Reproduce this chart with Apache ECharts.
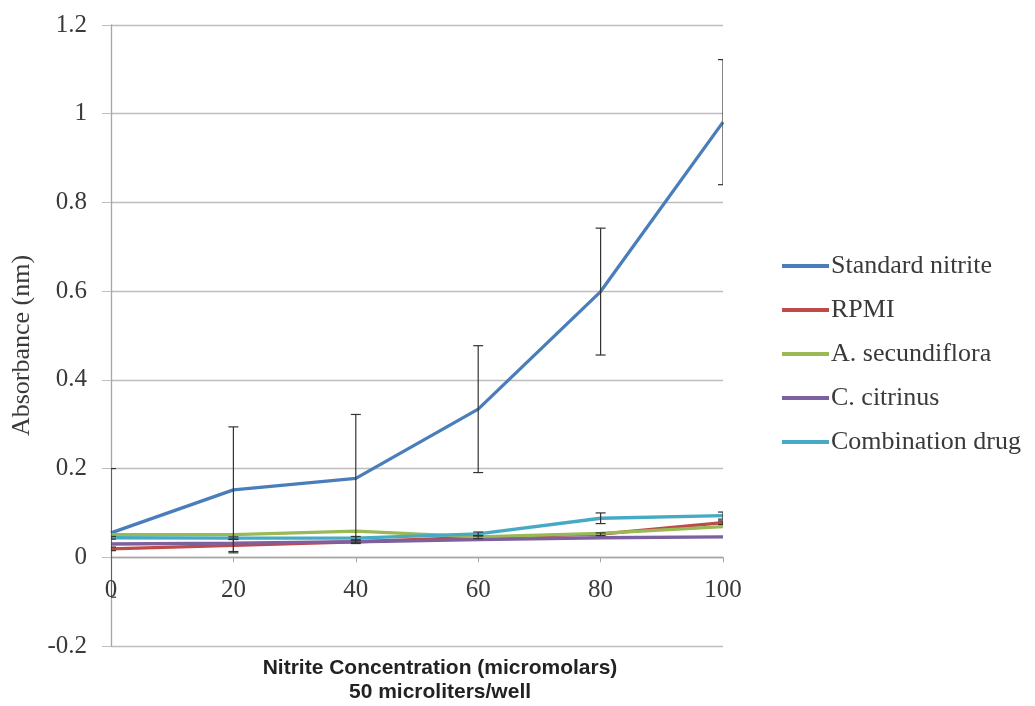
<!DOCTYPE html>
<html>
<head>
<meta charset="utf-8">
<script src="https://cdn.jsdelivr.net/npm/echarts@6/dist/echarts.min.js"></script>
<style>
html,body{margin:0;padding:0;background:#fff;}
#chart{width:1035px;height:706px;}
</style>
</head>
<body>
<div id="chart"></div>
<script>
const xValues = [0, 20, 40, 60, 80, 100];
const seriesNames = ['Standard nitrite', 'RPMI', 'A. secundiflora', 'C. citrinus', 'Combination drug'];
const standardNitrite = [0.055, 0.152, 0.178, 0.334, 0.599, 0.981];
const standardNitriteErr = [0.145, 0.142, 0.144, 0.143, 0.143, 0.141];
const rpmi = [0.019, 0.027, 0.035, 0.045, 0.052, 0.078];
const rpmiErr = [0.004, 0.014, 0.004, 0.003, 0.003, 0.004];
const aSecundiflora = [0.051, 0.051, 0.059, 0.046, 0.054, 0.069];
const cCitrinus = [0.030, 0.032, 0.035, 0.040, 0.044, 0.046];
const combinationDrug = [0.044, 0.043, 0.043, 0.053, 0.088, 0.094];
const combinationDrugErr = [0.003, 0.003, 0.004, 0.004, 0.012, 0.008];
const yTicks = { min: -0.2, max: 1.2, step: 0.2 };
const xTicks = { min: 0, max: 100, step: 20 };

const colors = ['#4a7ebb', '#be4b48', '#98b954', '#7d60a0', '#46aac5'];
const values = [standardNitrite, rpmi, aSecundiflora, cCitrinus, combinationDrug];
const errors = [standardNitriteErr, rpmiErr, null, null, combinationDrugErr];

const serif = 'Liberation Serif';
const textColor = '#3a3a3a';

const gridTop = 25, gridBottom = 60, chartH = 706;
const gridH = chartH - gridTop - gridBottom;
// place the x axis on the y=0 line
const zeroOffset = -gridH * (0 - yTicks.min) / (yTicks.max - yTicks.min);

const lineSeries = values.map((vals, i) => ({
  name: seriesNames[i],
  type: 'line',
  data: xValues.map((x, j) => [x, vals[j]]),
  symbol: 'none',
  color: colors[i],
  lineStyle: { width: 3.3, color: colors[i] },
  z: 3 + i
}));

function errRender(params, api) {
  const x = api.value(0);
  const lo = api.coord([x, api.value(1)]);
  const hi = api.coord([x, api.value(2)]);
  const w = 5;
  const style = { stroke: '#333', lineWidth: 1.2 };
  return {
    type: 'group',
    children: [
      { type: 'line', shape: { x1: hi[0], y1: hi[1], x2: lo[0], y2: lo[1] }, style },
      { type: 'line', shape: { x1: hi[0] - w, y1: hi[1], x2: hi[0] + w, y2: hi[1] }, style },
      { type: 'line', shape: { x1: lo[0] - w, y1: lo[1], x2: lo[0] + w, y2: lo[1] }, style }
    ]
  };
}

const errSeries = [];
errors.forEach((errs, i) => {
  if (!errs) return;
  errSeries.push({
    name: seriesNames[i] + ' error',
    type: 'custom',
    renderItem: errRender,
    data: xValues.map((x, j) => [x, values[i][j] - errs[j], values[i][j] + errs[j]]),
    encode: { x: 0, y: [1, 2] },
    clip: true,
    z: 10,
    silent: true
  });
});

const chart = echarts.init(document.getElementById('chart'), null, { renderer: 'canvas' });
chart.setOption({
  animation: false,
  backgroundColor: '#ffffff',
  grid: { left: 111, right: 312, top: gridTop, bottom: gridBottom, containLabel: false },
  legend: {
    data: seriesNames,
    orient: 'vertical',
    left: 777,
    top: 248,
    itemGap: 18,
    itemWidth: 47,
    itemHeight: 4,
    icon: 'rect',
    textStyle: { fontFamily: serif, fontSize: 26, color: textColor, padding: [0, 0, 0, -3] }
  },
  xAxis: {
    type: 'value',
    min: xTicks.min,
    max: xTicks.max,
    interval: xTicks.step,
    offset: zeroOffset,
    axisLine: { show: true, onZero: false, lineStyle: { color: '#a6a6a6', width: 1.3 } },
    axisTick: { show: true, length: 5, lineStyle: { color: '#a6a6a6' } },
    splitLine: { show: false },
    axisLabel: { margin: 21, fontFamily: serif, fontSize: 25, color: textColor }
  },
  yAxis: {
    type: 'value',
    min: yTicks.min,
    max: yTicks.max,
    interval: yTicks.step,
    name: 'Absorbance (nm)',
    nameLocation: 'middle',
    nameGap: 76,
    nameTextStyle: { fontFamily: serif, fontSize: 26, color: textColor, padding: [0, 20, 0, 0] },
    axisLine: { show: true, lineStyle: { color: '#a6a6a6', width: 1.3 } },
    axisTick: { show: true, length: 9, lineStyle: { color: '#bdbdbd' } },
    splitLine: { show: true, lineStyle: { color: '#bdbdbd', width: 1.3 } },
    axisLabel: { margin: 24, fontFamily: serif, fontSize: 25, color: textColor }
  },
  graphic: [{
    type: 'text',
    x: 440,
    y: 680,
    style: {
      text: 'Nitrite Concentration (micromolars)\n50 microliters/well',
      font: 'bold 21px "Liberation Sans"',
      fill: '#222',
      align: 'center',
      verticalAlign: 'middle',
      lineHeight: 24
    }
  }],
  series: lineSeries.concat(errSeries)
});
</script>
</body>
</html>
